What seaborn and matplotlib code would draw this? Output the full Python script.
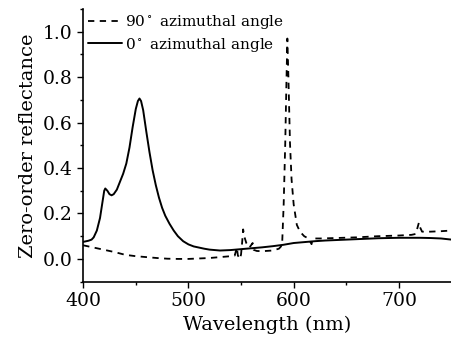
import numpy as np
import pandas as pd
import matplotlib
matplotlib.use("Agg")
import matplotlib.pyplot as plt
import seaborn as sns
from matplotlib.ticker import MultipleLocator

# 0 deg azimuthal angle (solid)
wl_0 = [400, 405, 408, 410, 413, 416, 418, 420, 421, 423, 425, 427, 429, 432, 435,
        438, 441, 444, 447, 450, 452, 453.5, 455, 457, 460, 463, 466, 469, 472, 475,
        478, 482, 486, 490, 495, 500, 505, 510, 515, 520, 530, 540, 550, 560, 570, 580,
        590, 600, 610, 620, 630, 640, 650, 660, 670, 680, 690, 700, 710, 720, 730,
        740, 750]
r_0 = [0.075, 0.08, 0.085, 0.095, 0.125, 0.18, 0.24, 0.30, 0.31, 0.30, 0.285, 0.28,
       0.285, 0.305, 0.34, 0.375, 0.42, 0.49, 0.58, 0.66, 0.695, 0.706, 0.695, 0.655,
       0.56, 0.47, 0.39, 0.325, 0.27, 0.225, 0.19, 0.155, 0.125, 0.10, 0.078, 0.064,
       0.055, 0.05, 0.045, 0.041, 0.037, 0.039, 0.043, 0.047, 0.051, 0.056, 0.062,
       0.07, 0.074, 0.078, 0.081, 0.083, 0.085, 0.087, 0.089, 0.091, 0.092, 0.093,
       0.093, 0.093, 0.092, 0.09, 0.085]

# 90 deg azimuthal angle (dashed)
wl_90 = [400, 410, 420, 430, 440, 450, 460, 470, 480, 490, 500, 510, 520, 530, 540,
         544, 546, 547, 549, 550, 551, 552, 553, 555, 558, 561, 562, 565, 570, 580,
         586, 589, 590.5, 592, 593, 594, 595, 596.5, 598, 600, 603, 606, 610, 614,
         617, 618, 625, 640, 660, 680, 700, 712, 716, 719, 720, 722, 730, 740, 750]
r_90 = [0.06, 0.05, 0.04, 0.03, 0.018, 0.012, 0.008, 0.004, 0.001, 0.0, 0.0, 0.002,
        0.004, 0.008, 0.012, 0.015, 0.05, 0.015, 0.0, 0.02, 0.07, 0.13, 0.10, 0.07,
        0.05, 0.07, 0.04, 0.035, 0.034, 0.037, 0.045, 0.06, 0.24, 0.51, 0.75, 0.97,
        0.80, 0.51, 0.35, 0.24, 0.15, 0.12, 0.10, 0.09, 0.065, 0.09, 0.09, 0.092,
        0.095, 0.10, 0.103, 0.106, 0.11, 0.16, 0.14, 0.12, 0.12, 0.122, 0.125]

sns.set_style("ticks")
plt.rcParams["font.family"] = ["DejaVu Serif"]
plt.rcParams["mathtext.fontset"] = "dejavuserif"
plt.rcParams["text.color"] = "black"
plt.rcParams["axes.labelcolor"] = "black"

fig = plt.figure(figsize=(4.52, 3.46), dpi=100)
ax = fig.add_axes([0.184, 0.186, 0.815, 0.788])

sns.lineplot(x=wl_90, y=r_90, ax=ax, color="black", lw=1.3,
             label="90$^\\circ$ azimuthal angle")
ax.lines[-1].set_dashes((3.5, 3))
sns.lineplot(x=wl_0, y=r_0, ax=ax, color="black", lw=1.4,
             label="0$^\\circ$ azimuthal angle")

ax.set_xlim(400, 750)
ax.set_ylim(-0.1, 1.1)
ax.xaxis.set_major_locator(MultipleLocator(100))
ax.xaxis.set_minor_locator(MultipleLocator(50))
ax.yaxis.set_major_locator(MultipleLocator(0.2))
ax.yaxis.set_minor_locator(MultipleLocator(0.1))
ax.yaxis.set_major_formatter(matplotlib.ticker.FormatStrFormatter("%.1f"))
ax.tick_params(which="major", length=4, width=1, labelsize=13.5, colors="black")
ax.tick_params(which="minor", length=2.5, width=1, colors="black")
for s in ["left", "bottom"]:
    ax.spines[s].set_linewidth(1.2)
    ax.spines[s].set_color("black")
sns.despine(ax=ax)

ax.set_xlabel("Wavelength (nm)", fontsize=14)
ax.set_ylabel("Zero-order reflectance", fontsize=14)

leg = ax.legend(loc="upper left", frameon=False, fontsize=11, handlelength=2.2,
                handletextpad=0.2, borderaxespad=0.0, borderpad=0.1, labelspacing=0.3,
                bbox_to_anchor=(0.01, 0.99))
for t in leg.get_texts():
    t.set_color("black")

fig.savefig("out.png", dpi=100)
